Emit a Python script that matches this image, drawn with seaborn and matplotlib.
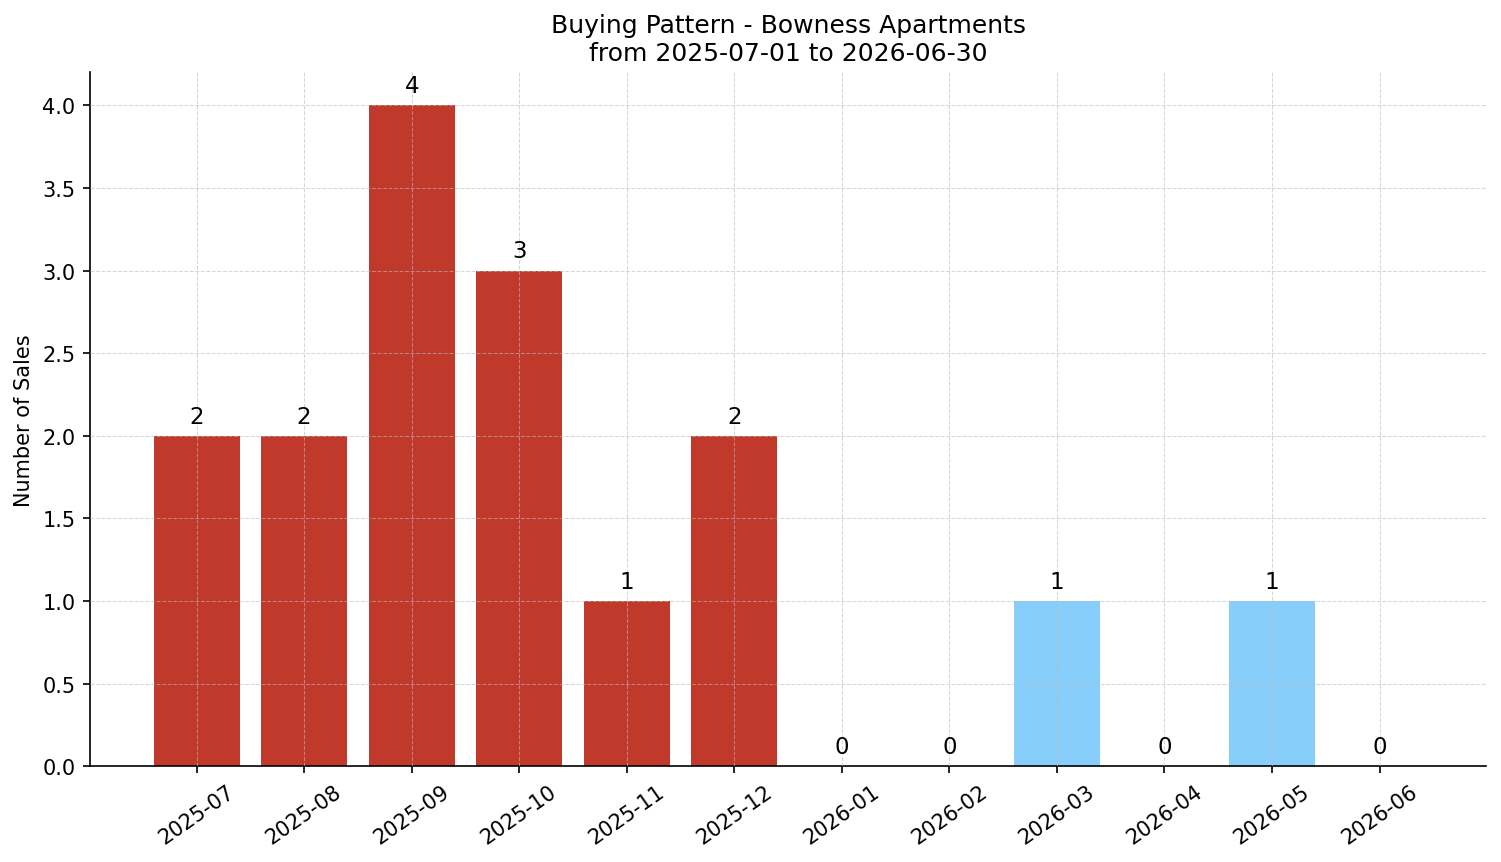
import matplotlib
matplotlib.use('Agg')
import matplotlib.pyplot as plt
import pandas as pd
import seaborn as sns

months = ['2025-07', '2025-08', '2025-09', '2025-10', '2025-11', '2025-12',
          '2026-01', '2026-02', '2026-03', '2026-04', '2026-05', '2026-06']
sales = [2, 2, 4, 3, 1, 2, 0, 0, 1, 0, 1, 0]
period = ['past'] * 6 + ['future'] * 6

df = pd.DataFrame({'month': months, 'sales': sales, 'period': period})
palette = {'past': '#c0392b', 'future': '#87cefa'}

sns.set_style('ticks', {'axes.edgecolor': 'black', 'text.color': 'black',
                        'axes.labelcolor': 'black', 'xtick.color': 'black',
                        'ytick.color': 'black'})
plt.rcParams['font.family'] = ['DejaVu Sans']

fig, ax = plt.subplots(figsize=(10.007, 5.753), dpi=150)
sns.barplot(data=df, x='month', y='sales', hue='period', palette=palette,
            dodge=False, width=0.8, saturation=1, legend=False,
            linewidth=0, ax=ax)

for i, v in enumerate(sales):
    ax.text(i, v + 0.05, str(v), ha='center', va='bottom', fontsize=11, color='black')

ax.set_xlim(-0.99, 11.99)
ax.set_ylim(0, 4.2)
ax.set_axisbelow(False)
ax.grid(True, linestyle='--', linewidth=0.5, color='#bbbbbb', alpha=0.6)
sns.despine(ax=ax)
ax.tick_params(axis='x', labelrotation=35)
for lbl in ax.get_xticklabels():
    lbl.set_ha('center')
ax.set_xlabel('')
ax.set_ylabel('Number of Sales', fontsize=10)
ax.set_title('Buying Pattern - Bowness Apartments\nfrom 2025-07-01 to 2026-06-30', fontsize=12)

fig.subplots_adjust(left=0.06, right=0.99, top=0.915, bottom=0.111)
fig.savefig('out.png', dpi=150)
